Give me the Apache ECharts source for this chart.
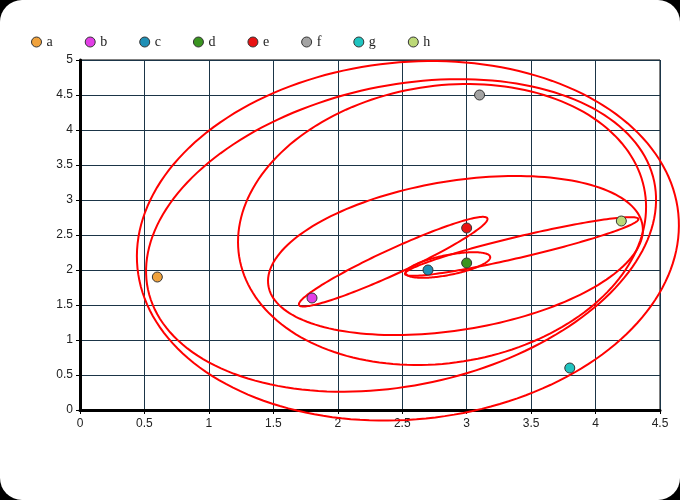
<!DOCTYPE html>
<html>
<head>
<meta charset="utf-8">
<script src="https://cdn.jsdelivr.net/npm/echarts@6/dist/echarts.min.js"></script>
<style>
html,body{margin:0;padding:0;background:#000;}
#chart{width:680px;height:500px;background:#fff;border-radius:22px;overflow:hidden;}
</style>
</head>
<body>
<div id="chart"></div>
<script>
// point names, coordinates and colours
const names = ['a','b','c','d','e','f','g','h'];
const xValues = [0.6, 1.8, 2.7, 3.0, 3.0, 3.1, 3.8, 4.2];
const yValues = [1.9, 1.6, 2.0, 2.1, 2.6, 4.5, 0.6, 2.7];
const colors = ['#f0a23c','#e23ee6','#1f8fb5','#3a9420','#e81212','#a3a3a3','#1fc4c0','#bcd977'];

// nested cluster ellipses (data units): centre, first half-axis vector, second half-axis vector
const ellipseCenters = [[2.855,2.071],[2.430,2.119],[3.427,2.336],[2.913,2.207],[2.809,2.650],[2.491,2.494],[2.544,2.417]];
const ellipseAxisU  = [[0.3275,0.1172],[0.7305,0.6193],[0.9054,0.3929],[1.4513,0.4329],[1.574,0.459],[1.9634,0.7749],[2.098,0.3924]];
const ellipseAxisV  = [[0.0148,-0.1402],[0.0406,-0.1622],[0.0187,-0.146],[0.0924,-1.0506],[0.168,-1.954],[0.2438,-2.0939],[0.140,-2.538]];

// axis ticks
const xMin = 0, xMax = 4.5, xStep = 0.5;
const yMin = 0, yMax = 5, yStep = 0.5;

const chart = echarts.init(document.getElementById('chart'));

const ellipseData = ellipseCenters.map((c, i) => [c[0], c[1], ellipseAxisU[i][0], ellipseAxisU[i][1], ellipseAxisV[i][0], ellipseAxisV[i][1]]);

const series = [{
  type: 'custom',
  name: 'clusters',
  z: 2,
  clip: false,
  silent: true,
  data: ellipseData,
  renderItem: function (params, api) {
    const cx = api.value(0), cy = api.value(1);
    const ux = api.value(2), uy = api.value(3);
    const vx = api.value(4), vy = api.value(5);
    const pts = [];
    const N = 180;
    for (let k = 0; k < N; k++) {
      const t = 2 * Math.PI * k / N;
      const c = Math.cos(t), s = Math.sin(t);
      pts.push(api.coord([cx + ux * c + vx * s, cy + uy * c + vy * s]));
    }
    return {
      type: 'polygon',
      shape: { points: pts },
      style: { fill: 'none', stroke: '#ff0000', lineWidth: 2 }
    };
  }
}];

names.forEach((n, i) => {
  series.push({
    type: 'scatter',
    name: n,
    z: 5,
    symbol: 'circle',
    symbolSize: 10,
    itemStyle: { color: colors[i], borderColor: '#333', borderWidth: 1, opacity: 1 },
    data: [[xValues[i], yValues[i]]]
  });
});

const labelFmt = v => String(Math.round(v * 10) / 10);

chart.setOption({
  animation: false,
  backgroundColor: 'transparent',
  legend: {
    data: names,
    left: 26,
    top: 30,
    itemWidth: 10,
    itemHeight: 10,
    itemGap: 32,
    icon: 'circle',
    itemStyle: { borderColor: '#333', borderWidth: 1 },
    textStyle: { fontFamily: 'Liberation Serif', fontSize: 14, color: '#222' }
  },
  grid: {
    left: 80, right: 20, top: 60, bottom: 90,
    show: true, borderColor: '#000', borderWidth: 1
  },
  xAxis: {
    type: 'value', min: xMin, max: xMax, interval: xStep,
    axisLine: { show: true, onZero: false, lineStyle: { color: '#000', width: 3 } },
    axisTick: { show: true, length: 4, lineStyle: { color: '#000' } },
    axisLabel: { formatter: labelFmt, color: '#222', fontFamily: 'Liberation Sans', fontSize: 12, margin: 8 },
    splitLine: { show: true, lineStyle: { color: '#1b3547', width: 1 } }
  },
  yAxis: {
    type: 'value', min: yMin, max: yMax, interval: yStep,
    axisLine: { show: true, onZero: false, lineStyle: { color: '#000', width: 3 } },
    axisTick: { show: true, length: 4, lineStyle: { color: '#000' } },
    axisLabel: { formatter: labelFmt, color: '#222', fontFamily: 'Liberation Sans', fontSize: 12, margin: 7 },
    splitLine: { show: true, lineStyle: { color: '#1b3547', width: 1 } }
  },
  series: series
});
</script>
</body>
</html>
